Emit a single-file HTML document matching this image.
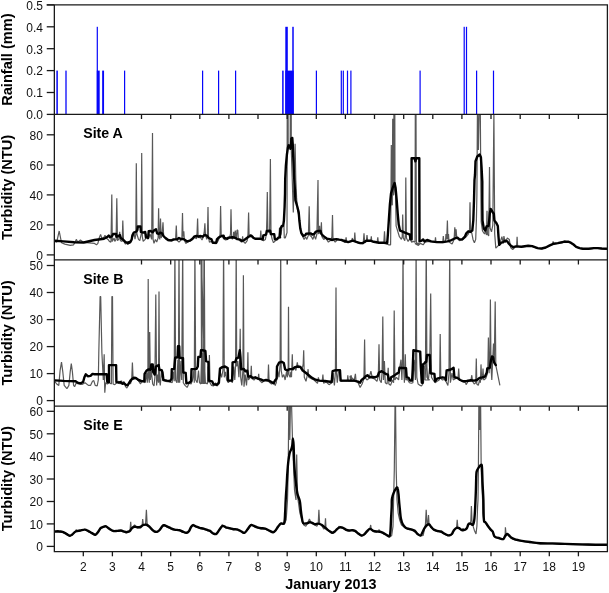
<!DOCTYPE html><html><head><meta charset="utf-8"><title>Turbidity and rainfall, January 2013</title><style>html,body{margin:0;padding:0;background:#fff}</style></head><body><svg width="609" height="593" viewBox="0 0 609 593" style="display:block;font-family:'Liberation Sans',Arial,sans-serif">
<rect width="609" height="593" fill="#fff"/>
<defs><clipPath id="cA"><rect x="54.35" y="114.4" width="553.05" height="145.49999999999997"/></clipPath><clipPath id="cB"><rect x="54.35" y="259.9" width="553.05" height="146.3"/></clipPath><clipPath id="cE"><rect x="54.35" y="406.2" width="553.05" height="145.50000000000006"/></clipPath></defs>
<rect x="56.35" y="70.6" width="1.5" height="43.8" fill="#0707fa"/>
<rect x="65.35" y="70.6" width="1.3" height="43.8" fill="#0707fa"/>
<rect x="96.7" y="26.8" width="1.2" height="87.6" fill="#0707fa"/>
<rect x="96.8" y="70.6" width="2.9" height="43.8" fill="#0707fa"/>
<rect x="102.15" y="70.6" width="1.9" height="43.8" fill="#0707fa"/>
<rect x="124" y="70.6" width="1.2" height="43.8" fill="#0707fa"/>
<rect x="202" y="70.6" width="1.2" height="43.8" fill="#0707fa"/>
<rect x="218" y="70.6" width="1.2" height="43.8" fill="#0707fa"/>
<rect x="235" y="70.6" width="1.2" height="43.8" fill="#0707fa"/>
<rect x="282.15" y="70.6" width="1.5" height="43.8" fill="#0707fa"/>
<rect x="285.3" y="26.8" width="2.5" height="87.6" fill="#0707fa"/>
<rect x="285.3" y="70.6" width="8.4" height="43.8" fill="#0707fa"/>
<rect x="292.25" y="26.8" width="1.5" height="87.6" fill="#0707fa"/>
<rect x="315.8" y="70.6" width="1.2" height="43.8" fill="#0707fa"/>
<rect x="340.7" y="70.6" width="1.2" height="43.8" fill="#0707fa"/>
<rect x="342.7" y="70.6" width="1.2" height="43.8" fill="#0707fa"/>
<rect x="346.9" y="70.6" width="1.2" height="43.8" fill="#0707fa"/>
<rect x="350.3" y="70.6" width="1.2" height="43.8" fill="#0707fa"/>
<rect x="419.5" y="70.6" width="1.2" height="43.8" fill="#0707fa"/>
<rect x="463.6" y="26.8" width="1.2" height="87.6" fill="#0707fa"/>
<rect x="465.9" y="26.8" width="1.2" height="87.6" fill="#0707fa"/>
<rect x="476" y="70.6" width="1.2" height="43.8" fill="#0707fa"/>
<rect x="492.9" y="70.6" width="1.2" height="43.8" fill="#0707fa"/>
<path d="M54.7 241.4 L56.7 242.1 L59.2 231 L61.1 240.7 L61.5 242.7 L64.8 244.1 L70.2 245.4 L73.6 244.8 L75 242.3 L76.3 239.4 L77.7 242.1 L80.4 240 L82.4 241.4 L83.7 242.3 L94.5 243.4 L96.5 244.8 L97.9 243.4 L99.2 238 L100.6 234.4 L101.9 238.7 L104 237.3 L105 235.3 L106 238 L108 239.4 L109.4 241.4 L111 242.1 L111.8 194.6 L112.3 241.4 L114.1 238 L114.8 241.4 L116.1 239.4 L116.8 198.2 L117.5 240.7 L118.8 239.4 L119.7 231.9 L120.4 240.7 L122.2 241.4 L122.8 220.5 L123.5 240.7 L125.5 244.1 L127.6 242.7 L130 242.1 L127.7 243.9 L130.4 242.3 L132.4 237.3 L134.2 234 L135 239.1 L135.8 234.6 L136.3 163.3 L136.9 234 L138.5 239.4 L139.8 240.7 L141.2 234 L141.7 152.9 L142.3 236.7 L143.2 241.4 L145.2 239.4 L146.6 234 L147.9 239.4 L150 234 L151.7 239.4 L152.5 133.1 L153.1 239.4 L154 243.4 L155.4 239.4 L156.7 242.1 L158.1 238 L158.6 208.3 L159.1 236.7 L159.8 239.4 L160.5 218.4 L161.2 238 L162.1 234 L163 222.2 L163.7 236.7 L165.5 238.7 L168.2 240.7 L171.5 241 L173.6 240 L175.6 239.4 L176.3 225.5 L176.9 240 L179 242.1 L181 240 L181.9 238 L182.5 213.1 L183 236.7 L183.8 231.3 L184.4 240 L185.7 243.4 L187.7 242.1 L189.8 241 L192.5 239.4 L194.5 237.3 L196.5 238.7 L197 234 L197.6 218.4 L198.1 235.3 L199.2 238 L200 236.7 L202 240 L203.4 236.7 L204.3 231.3 L204.9 223.4 L205.4 234 L206.7 239.4 L207.4 236.7 L208 207 L208.5 236.7 L209.4 242.1 L211.5 241.4 L213.5 243.4 L216.2 243.7 L218.2 240.7 L219.6 236.7 L220.1 234 L220.6 205.9 L221.2 235.3 L222.3 236.7 L223.6 238.7 L225.6 240 L227.7 239.4 L229.7 237.3 L230.5 234 L231 209.3 L231.6 236.7 L232.4 239.4 L233.3 236.7 L233.7 231.9 L234.3 238 L235.3 230.6 L235.9 236.7 L236.4 239.4 L237 230.2 L237.8 230.2 L238.3 239.4 L240.5 241.4 L242.1 242.1 L242.6 236.4 L243.2 241.4 L245.2 243.4 L247.2 240.7 L248 234 L248.6 212.4 L249.1 235.3 L250.6 234.6 L251.9 236.7 L254 238.7 L256.7 239.4 L259.4 239.4 L260.3 238 L260.8 230.6 L261.4 239.4 L263.4 240.7 L265.4 239.4 L266.4 234 L266.9 217.8 L267.3 192.1 L267.9 232.6 L268.8 231.3 L269.6 232.6 L270.4 159.1 L271 234 L272.2 239.4 L273.5 242.7 L275.5 240.7 L277.6 239.4 L278.9 238 L279.5 227.9 L280 236.7 L281.2 234 L281.9 226.5 L283.9 225.9 L284.3 238 L285.2 238 L285.9 236 L287 232.6 L287.7 -150 L288.2 146 L290.2 146 L290.8 -150 L291.3 150.1 L293.3 212.4 L295.1 143.7 L295.8 180 L296.6 197.9 L297.4 209 L298.7 215.1 L299.8 224.5 L300.8 231.3 L302.1 235.3 L304.1 239.4 L305.5 236.7 L306.8 239.4 L308.4 235.3 L309.2 206.3 L309.8 235.3 L311.5 236.7 L312.9 239.4 L314.2 235.3 L315.6 239.4 L316.9 234 L318 180 L318.4 234 L319.2 231.3 L319.6 225.9 L320 234 L320.9 232.6 L321.4 222.2 L321.9 236.7 L323.7 239.4 L325.7 238 L328.4 242.1 L331.1 240 L331.9 236.7 L332.5 215.1 L333 239.4 L335.2 242.1 L337.8 239.4 L340.5 240 L343.2 241.4 L345 242.1 L342.7 240.7 L345.4 242.1 L346.1 237.3 L346.7 242.3 L351.5 241.4 L352.4 238 L353.1 241.4 L354.3 240.7 L354.8 232.6 L355.4 241.4 L358.9 243.4 L363.2 243.7 L364 233.3 L364.7 242.7 L366.3 241.4 L367 235 L367.7 241 L370.8 241 L371.3 236.4 L371.8 241.5 L377.1 242.7 L377.8 237.3 L378.4 243.1 L383.8 243.1 L384.5 231.3 L385.2 243.4 L388.6 244.8 L390.6 244.8 L390.7 235 L391.3 145.1 L391.7 205 L392.3 205 L392.7 118.8 L393.3 195 L393.8 195 L394.2 -150 L395 190 L395.6 194 L396.1 225.9 L399.4 236.7 L401.4 239.4 L402.2 236.7 L402.7 214.4 L403.3 238 L404.8 240.7 L405.4 234 L405.8 177.4 L406.4 238 L408.1 241.4 L410.2 238 L411.5 242.1 L413.5 241.4 L415 242.1 L415.3 112.5 L415.5 207 L416 112.5 L416.4 242.1 L417.6 245 L419.3 243.4 L415 243.4 L417 244.8 L418.4 245.4 L420.4 243.4 L423.1 244.8 L425.1 242.1 L428.5 241.4 L435 242.1 L435.5 237.3 L436 242.3 L442.7 242.7 L443.3 236 L444 242.7 L445.5 240.7 L446 234 L446.7 239.4 L447.4 220.5 L447.9 239.4 L448.5 234 L449 242.1 L452.1 244.1 L454.1 239.4 L454.8 227.2 L455.5 236.7 L456.1 229.2 L456.8 238 L459.5 240.7 L462.2 240 L465.6 237.3 L468.3 234 L469.5 231.3 L470 202.3 L470.6 232.6 L471.7 232.6 L473 239.4 L474.4 242.7 L475.7 239.4 L476.4 219.9 L476.9 195 L477.5 100 L478.4 150.1 L479.4 100 L480.3 110 L480.8 180 L481.2 222 L482.5 231 L484.5 234 L485.6 231 L486.5 235 L487 210.8 L487.4 234 L488.7 236 L489.5 167 L490.1 228 L491.5 231.9 L492.8 225.1 L493.9 112.5 L494.7 234 L495.8 248.1 L497.8 246.1 L499.8 243.4 L501.9 236.7 L503.2 243.4 L503.9 236 L505.2 242.7 L507.3 238 L509.3 239.4 L510.6 247.5 L512.7 249.5 L515.4 246.8 L516.6 246.1 L517.1 236.7 L517.6 246.1 L521.4 247 L528.2 246.1 L532.2 246.4 L537.6 248.4 L541.7 248.8 L545.7 247.7 L549.8 245.7 L552.5 244.5 L553.1 241.4 L553.8 243.9 L557.8 243.4 L561.9 242.6 L565 241.7 L565.4 242.1 L568.1 241.9 L570.8 243 L573.5 244.8 L576.2 247 L579.6 248.4 L583 249.1 L588.4 249.1 L593.8 248.4 L597.8 248.4 L601.8 248.8 L607.5 249.1" fill="none" stroke="#585858" stroke-width="1.2" stroke-linejoin="bevel" clip-path="url(#cA)"/>
<path d="M54.7 240.7 L63.5 241.4 L74.3 242.3 L83.7 242.5 L94.5 240 L104 238.7 L106.7 237.3 L108.7 235.6 L110 237.3 L112.1 236 L113.1 234 L116.1 234 L116.4 236.7 L118.8 236 L119.9 235 L120.8 238 L123.5 240 L125.5 242.1 L127.6 242.7 L130 241.8 L127.7 243.4 L130.4 242.1 L131.7 239.4 L132.4 235.3 L133.8 232.6 L136.5 231.5 L137.4 229.9 L137.8 226.5 L140.5 226.5 L140.9 231.9 L143.2 232.6 L145.2 231.9 L145.9 237.3 L148.2 237.7 L148.7 231.3 L150.6 231 L152.7 232.3 L154 230.6 L156 229.2 L157.1 233.3 L158.7 234 L160.1 232.6 L162.1 233.3 L163.4 236 L165.5 238 L168.2 240 L171.5 240.4 L173.6 239.4 L176.9 239.4 L179 238 L181 239.1 L183 238.7 L185 240 L187.1 241.4 L189.8 240.7 L192.5 238.7 L194.5 236.4 L196.5 236 L198.5 236.7 L200 236 L202.7 236.7 L204.7 235 L206.7 235.6 L208.8 238 L211.5 239.4 L212.8 242.7 L216.2 242.7 L216.9 239.4 L218.9 237.3 L221.6 236 L223.6 235.6 L224.3 238 L227 238.7 L228.3 237.7 L232.4 237.3 L235.1 237.7 L237.1 239.1 L239.8 239.4 L241.8 240.7 L243.8 240.4 L245.9 238.7 L248.6 236.7 L251.3 235.6 L253.3 237.7 L255.3 238.7 L259.4 238.7 L262.7 239.4 L263.4 235.3 L266.1 234.6 L266.8 231 L270.2 230.6 L270.8 234 L274.2 234.2 L274.9 239.4 L276.9 239.1 L278.2 237.7 L280 237.3 L279.8 236.9 L280.5 228.6 L281.9 225.9 L283.2 225.6 L283.9 220.5 L284.6 207 L285 194 L285.2 178.8 L285.9 165.3 L286.9 154.5 L287.9 147.7 L288.6 145.3 L290 145.7 L290.4 148.8 L290.9 146.4 L291.4 138.3 L292.3 138 L292.8 145 L293.3 158.5 L294 174.7 L294.9 189.5 L295.4 200.2 L297.4 207 L298.7 212.4 L299.4 220.5 L300.3 228.6 L301.4 233.3 L303.4 236 L305.5 235 L306.1 233.7 L310.9 233.4 L312.2 234.6 L314.2 234 L315.6 231.9 L317.6 231 L320.6 231 L321.4 234 L323 235.6 L325 237.3 L327.1 238.7 L329.8 239.1 L331.8 240 L333.8 239.4 L336.5 239.1 L339.2 239.6 L341.9 240 L345 241.4 L344 240.7 L348.1 242.1 L352.8 240.7 L356.2 241.8 L360.2 243.1 L362.9 243.1 L366.3 240.7 L370.4 240.7 L373.7 241.8 L379.1 242.7 L383.2 242.7 L387.2 243.1 L387.9 234 L388.8 220.5 L389.9 204.3 L391 193.5 L392.6 188.1 L394.6 183 L395.6 188.1 L396.7 200.2 L397.7 213.7 L398.7 224.5 L400 230.6 L402.1 231.3 L404.8 232.6 L407.5 233.7 L409.9 234.6 L410.4 239.4 L411.6 239.4 L411.6 158.3 L414.6 158.3 L415.4 161.4 L416.2 158.3 L419.3 158.3 L419.5 241.4 L421.7 240.7 L423.1 239.4 L424.4 241.4 L427.1 240 L431.2 241.4 L436.6 242.1 L443.3 242.1 L447.4 241.4 L450.1 240.7 L454.1 238.7 L457.5 237.7 L459.5 239.4 L462.2 239.4 L464.9 236.7 L466.3 233.3 L468.3 231.3 L470.3 231.9 L472.3 230.6 L473.3 220.5 L474 200.2 L474.5 180 L475 174.7 L475.5 161.2 L477.3 156.5 L479.7 154.5 L480.9 157.2 L481.6 168 L482.3 181.5 L482.3 200.2 L482.5 220.5 L483.8 228.6 L485.2 230.6 L486.5 226.5 L488.5 225.9 L489.2 220.5 L489.9 212.4 L490.8 209.4 L490.7 209 L492.4 211.7 L493.8 213.7 L494.4 220.5 L496.5 223.2 L497.8 225.9 L498.5 236.7 L499.2 244.8 L501.2 242.7 L503.2 242.1 L505.2 240.7 L507.3 241.4 L508.6 243.4 L510.6 245.4 L513.3 247.2 L516 246.4 L521.4 246.8 L528.2 245.8 L532.2 246.1 L537.6 248.1 L541.7 248.5 L545.7 247.5 L549.8 245.4 L553.8 243.7 L557.8 243.1 L561.9 242.3 L565 241.4 L565.4 241.8 L568.1 241.7 L570.8 242.7 L573.5 244.5 L576.2 246.8 L579.6 248.1 L583 248.8 L588.4 248.8 L593.8 248.1 L597.8 248.1 L601.8 248.5 L607.5 248.8" fill="none" stroke="#000" stroke-width="2.4" stroke-linejoin="round" stroke-linecap="round" clip-path="url(#cA)"/>
<path d="M54.7 381.3 L56.7 384 L58.8 385.4 L60.1 370.5 L61.5 362.2 L62.8 371.9 L64.2 385.4 L66.9 388.7 L68.9 385.4 L70.2 371.9 L71.3 363.5 L72.4 371.9 L73.6 385.4 L74.6 386.7 L76.3 382.7 L78.3 384 L82.4 384.3 L85.1 382.7 L88.4 385.4 L90.5 385.4 L92.5 381.3 L93.8 380.6 L95.2 385.4 L97.2 386 L98.3 380 L98.8 353 L100.1 296.5 L100.7 296.5 L101.9 353 L103.3 380 L103.7 366.5 L104.2 354.3 L104.5 380 L104.8 392.8 L105.6 382.7 L107.3 384 L109.4 382.7 L111.4 384 L111.9 296.5 L112.5 296.5 L113.1 384 L114.8 384.7 L116.8 382.7 L118.8 381.3 L120.2 384 L121.5 380.6 L122.8 384 L123.9 381.3 L125.5 386.7 L126.9 388.1 L128.2 385.4 L130 380 L130.1 380 L130.4 384 L131.7 380 L132.4 362.4 L133.1 379.3 L135.8 378.6 L138.5 380.6 L140.5 384 L141.9 381.3 L144.3 382 L145.2 382.7 L146.6 373.2 L147.3 382.7 L147.9 371.9 L148.2 279.1 L148.7 377.3 L149.3 382.7 L149.7 332.1 L150.4 380 L151.3 370.5 L152.7 384 L154 386 L154.9 377.3 L155.8 294.6 L156.6 385.4 L157.6 374.6 L158.5 382.7 L159 291.5 L159.5 380 L160.3 385.4 L161.4 371.9 L162.8 380 L165.5 381.3 L169.5 382 L172.2 382.7 L173.3 371.9 L174.2 381.3 L174.9 245.1 L175.6 380 L176.9 382.7 L177.9 359.7 L178.4 382.7 L179 245.1 L179.6 382.7 L181 361.1 L181.7 380 L182.7 245.1 L183.3 382.7 L185 385.4 L187.1 387.4 L189.1 383.3 L191.1 384 L192.5 380 L193.8 370.5 L194.3 382.7 L194.9 245.1 L195.7 380 L197.2 382.7 L198.5 370.5 L199.5 382.7 L200.8 384 L201.5 359.7 L201.9 245.1 L202.2 384 L203.2 353 L203.8 384 L204.3 245.1 L204.9 384 L201.1 245.1 L201.6 384 L202.7 359.7 L203.5 384 L204 245.1 L204.6 366.5 L205.4 382.7 L207.4 384 L208.1 366.5 L208.9 382.7 L209.4 355 L210 382.7 L211.5 385.4 L213.5 386 L215.5 382.7 L216.9 386 L218.9 384 L220.2 371.9 L221.6 377.3 L222.9 370.5 L223.6 245.1 L224.3 377.3 L225.6 371.9 L226.7 380 L228.3 382.7 L230.4 380 L232.4 382.7 L233.7 366.5 L234.8 380 L235.6 363.8 L236.2 245.1 L236.7 366.5 L237.8 361.1 L238.9 377.3 L239.7 361.1 L240.2 328.7 L240.7 377.3 L241.8 385.4 L242.9 370.5 L243.4 275.3 L244 386.7 L245.2 374.6 L246.5 385.4 L247.4 373.2 L247.9 352.3 L248.4 380 L249.9 377.9 L250.7 377.3 L251.3 365.8 L251.8 378.6 L254 380 L256 377.9 L258.1 379.3 L258.7 373.9 L259.2 380 L262.1 382.7 L264.8 380 L267.9 381.3 L268.5 364.4 L269.1 382 L271.5 384 L273.5 382.7 L275.5 385.4 L275 385.4 L276.3 382.7 L277.7 370.5 L279 377.3 L280.1 365.1 L280.7 245.1 L281.2 370.5 L282.4 377.3 L283.8 374.6 L285.1 380 L286.5 371.9 L287.4 377.3 L288.2 366.5 L288.5 306.8 L288.9 374.6 L290.1 377.3 L290.9 371.9 L291.5 377.3 L292.3 354.3 L292.8 370.5 L294.6 367.8 L295.9 370.5 L297.3 362.4 L298.2 367.8 L300 365.8 L301.3 369.2 L302.7 366.5 L303.2 363.8 L303.7 350.3 L304.3 377.3 L306 381.3 L307.4 374.6 L308.1 369.2 L308.7 377.3 L311.4 378.6 L314.1 380 L317.5 383.3 L318.4 377.3 L319 380.6 L322.2 381.3 L322.9 374.6 L323.6 383.3 L326.3 382 L329 384.7 L331.7 382.7 L333 373.2 L334.4 385.4 L335.4 371.9 L336 287.6 L336.5 373.2 L337.3 382.7 L338.4 371.9 L339.8 372.5 L341.1 381.3 L345.2 381 L347.3 381.3 L347.8 375.2 L348.4 381.3 L350.7 381.3 L351.2 375.2 L351.8 381.3 L355 381 L350 375.9 L350.7 381.3 L354 381.3 L355.4 373.9 L356.1 381.3 L358.1 382.7 L360.1 387.4 L362.1 384 L363.5 380 L364 374.6 L364.6 339.5 L365.1 377.3 L366.9 380 L368.9 378.6 L370.9 371.2 L372.3 377.9 L375 379.3 L377 381.3 L378.3 375.9 L379 344.2 L379.7 380 L381.3 382.7 L382.1 371.9 L382.8 316.6 L383.5 380 L384.4 361.1 L385.3 382.7 L387.1 384 L388.2 367.8 L388.9 384 L390.5 385.4 L392.5 380 L393.6 382.7 L394.2 310.5 L394.9 380 L396.5 377.3 L398.6 380 L399.9 366.5 L401 359.7 L401.9 380 L402.5 361.1 L403 245.1 L403.6 366.5 L404.4 382.7 L405.3 354.3 L405.9 380 L407.3 379.3 L409.4 382.7 L411.4 383.3 L412.9 382.7 L414.1 359.7 L415.4 380 L416.1 245.1 L416.8 377.3 L418.1 384 L420.2 385.4 L421.5 386 L423.5 382.7 L424.5 366.5 L425.5 363.8 L426.2 245.1 L426.9 366.5 L427.6 378.6 L429.6 380 L425 380 L425.8 366.5 L426.3 245.1 L426.9 377.3 L428.4 380 L429.7 366.5 L430.7 293.4 L431.5 377.3 L433.1 380 L435.1 382.7 L437.1 381.3 L439.2 380 L439.7 377.3 L440.2 334.1 L440.8 378.6 L442.5 380 L444.6 379.3 L445.9 381.3 L447.9 385.4 L449 373.2 L449.7 245.1 L450.4 382.7 L452 373.2 L453.3 380 L455.4 378.6 L458.1 377.3 L458.7 368.5 L459.4 379.3 L462.1 381.3 L465.5 382.7 L466.1 384.7 L468.2 381.3 L470.9 380.6 L471.8 375.2 L472.5 381.3 L474.2 384 L475.7 382.7 L476.3 358.4 L476.8 384 L478.3 385.4 L479.6 380 L480.4 382.7 L481 364.4 L481.7 380 L482.5 377.3 L483 368.5 L483.7 380 L485.7 378.6 L487.1 374.6 L487.9 366.5 L488.4 337.5 L489.1 373.2 L489.9 353 L490.4 299.4 L491 366.5 L491.8 380 L492.7 359.7 L493.5 343.5 L494.3 359.7 L495.2 301.4 L495.8 365.1 L499.9 385.4" fill="none" stroke="#585858" stroke-width="1.2" stroke-linejoin="bevel" clip-path="url(#cB)"/>
<path d="M54.7 380.4 L63.5 380.9 L75.6 381.3 L77.7 382.7 L80.4 383.3 L83.1 382 L84.4 377.3 L85.8 374.3 L87.8 376.2 L90.5 375.9 L92.5 373.9 L94.5 374.2 L98.6 374.3 L106.7 374.3 L107.3 382 L109 382 L109 365.1 L116.1 365.1 L116.4 382 L118.8 382.7 L120.2 382 L122.2 383.7 L124.2 383.3 L126.2 385.1 L127.7 385.1 L129.7 382 L131.7 379.3 L133.8 377.7 L135.8 377.9 L138.5 380 L141.2 381 L144.3 381.3 L144.6 373.9 L146.6 370.5 L148.6 369.4 L150.6 369.8 L151.3 364.4 L152.7 364.4 L153.1 371.9 L154.7 374.6 L155.8 366.5 L158.7 365.1 L159.4 369.8 L161.7 370.2 L162.5 372.5 L163.4 380 L166.8 380.6 L170.2 381 L171.5 378.6 L171.8 369.2 L174.2 368.9 L175.2 357.7 L177.6 357.3 L178 346.2 L179.2 346.2 L179.6 357.7 L183 358.1 L183.3 372.5 L185.7 372.9 L186.4 383.3 L189.1 382.7 L191.1 381.3 L191.5 369.2 L196.5 368.9 L197.8 366.5 L198.3 357 L200.5 356.8 L201 350.3 L203.2 350.3 L205.4 351 L206.1 361.1 L208.4 361.8 L208.8 380.6 L212.1 381.3 L213.5 384.3 L216.9 384.7 L218.9 382.7 L220 368.5 L222.3 367.1 L225 366.5 L227.7 368.1 L228.1 380.6 L232.1 380.6 L232.6 362.4 L235.3 361.8 L236.4 358.4 L238.4 357.7 L239.8 350.3 L240.5 357.7 L241.1 369.2 L243.8 368.9 L245.2 371.2 L247.2 370.8 L248.3 376.6 L250.6 376.2 L252.6 377.9 L255.3 377.3 L258 378.6 L260.7 379.3 L263.4 380.6 L266.1 380 L268.8 380.6 L271.5 382 L273.5 383.3 L275 380.6 L276.6 378.6 L277 366.5 L279 362.7 L281.7 361.8 L283.8 363.1 L285.1 369.2 L287.1 370.5 L289.2 369.2 L292.5 368.9 L295.2 367.1 L297.9 366.5 L300.6 367.1 L302.7 370.5 L305.4 372.5 L308.7 375.2 L312.1 377.9 L315.5 379.7 L319.5 380.6 L324.9 381 L331.7 382 L332.6 371.2 L335.7 370.2 L340 370.2 L340.6 380.6 L345.2 380.6 L350.5 380.6 L354 380.6 L358.1 381.6 L360.1 382.7 L361.5 380 L363.5 378.6 L365.5 376.6 L367.5 375.2 L369.6 377.3 L372.3 377 L375 377.3 L377.7 376.2 L379 372.5 L381.7 371.2 L383.7 372.5 L385.8 373.9 L387.8 374.6 L388.9 380 L390.5 380.6 L391.1 377.3 L393.8 375.9 L396.5 373.9 L398.8 372.5 L399.4 367.8 L406 368.1 L406.7 377.3 L408.7 377.9 L410 380.6 L412.1 380.6 L412.7 369.2 L413.4 350.3 L420.2 351.6 L420.8 366.5 L421.8 382.7 L422.6 382.7 L422.8 364.4 L424.9 363.1 L425 362.4 L426.3 361.8 L427 355 L429.7 355 L430.4 373.2 L434.4 373.9 L435.1 381.3 L437.1 378.6 L439.8 377.9 L442.5 377.3 L445.2 377.9 L445.9 380 L446.6 370.5 L450 369.8 L451.3 369.2 L453.6 367.8 L454.4 377.3 L457.4 377.9 L460.1 380 L463.4 381.3 L466.8 381 L470.9 380.2 L474.2 380.6 L476.9 380 L479.6 377.9 L482.3 377.3 L485 376.6 L486.8 372.5 L487.3 368.5 L489.8 367.8 L491.1 359.7 L492 356.4 L493.1 357.3 L494.1 362.4 L495.8 365.1" fill="none" stroke="#000" stroke-width="2.4" stroke-linejoin="round" stroke-linecap="round" clip-path="url(#cB)"/>
<path d="M54.6 532.1 L58.5 531.8 L62.5 532.3 L66.4 534.4 L69.7 536.3 L72.3 534.9 L75.6 531.3 L76.3 529.6 L77.6 531.5 L80.2 531 L84.8 529.2 L88.1 531.4 L92 533.6 L95.3 535.3 L97.9 532.7 L100.6 527.6 L103.2 527.5 L105.8 525.7 L109.1 529.2 L113.1 531.4 L117 531.4 L120.9 531 L123.6 531.8 L126.2 532.7 L128.8 532.1 L130 530.5 L130.7 521.7 L131.3 529.6 L132 528.2 L134.6 525 L137.2 527.8 L140.5 528.2 L142.1 526.3 L142.7 519 L143.4 525.6 L145.5 525.2 L146.4 509.9 L147.2 525.6 L149 526.8 L151.7 529.7 L154.3 531.8 L156.9 532.3 L159.6 530.5 L162.2 526.3 L163.5 524.3 L164.8 525.7 L167.4 527.2 L170.7 528.8 L174.7 530.1 L179.3 530.7 L182.5 532.1 L186.5 533.4 L189.1 531.4 L191.1 526.9 L193.1 524.3 L195.7 526.8 L199.6 528.4 L203.6 529.2 L207.5 530.5 L210 531.4 L213.3 534 L216.3 534.4 L219.2 530 L222.1 524.7 L225.8 527.8 L229.7 528.8 L233.6 529.7 L237.6 529.2 L241.5 532.1 L244.4 533.4 L247.4 530.1 L251 524.3 L253.3 526.1 L257.3 527.8 L261.2 528.8 L265.2 529.2 L269.1 531 L273.1 532.7 L275.7 530.7 L278.3 526.8 L280.9 523 L284.2 524.3 L286.2 519.7 L287.5 500 L288.2 470 L289 380 L289.8 440 L290.9 380 L292.5 440 L294.5 490 L296 500 L296.7 454.6 L297.5 496 L299.9 513.1 L301.8 519.7 L303.8 525 L305.8 526.3 L307.7 523 L309.4 519 L311 522.6 L315 525 L316.9 526.3 L318.2 523.6 L318.9 509.9 L319.6 523.6 L321.5 525.2 L323.9 529.2 L324.9 527.6 L325.5 518.4 L326 528.2 L327.4 530.1 L330.1 532.1 L332.3 533.4 L334.7 532.1 L337.3 529.4 L338.9 526.3 L340.6 527.6 L342.5 528.1 L345.8 530.1 L349.1 531 L352.4 529.6 L355 531.4 L358.3 534 L361.6 536 L364.2 534.9 L366.8 532.1 L370 528.2 L370.7 525 L371.3 529.6 L373.3 531.4 L376.6 532.1 L379.2 529.6 L380.2 532.3 L383.1 533.4 L386.4 535.3 L389.4 537.4 L391.7 535.5 L393 526.3 L393.6 500 L394.3 470 L395.3 380 L396.2 470 L397 500 L398.2 513.1 L399.6 519.7 L401.5 525 L405.5 528.1 L408.8 529.4 L412 530.1 L415.3 530.2 L416.6 532.8 L417.9 534.7 L420.6 536 L423.2 535.5 L424.5 528.8 L425.4 525 L426.2 509.9 L427 524.3 L427.8 523.6 L428.5 515.1 L429.1 524.3 L431.1 527.5 L433.7 530.1 L437 531.4 L440.9 532.1 L444.2 534 L447.5 535.7 L450 535.7 L452 534.4 L453.9 530.7 L456.6 527.8 L457.2 519.7 L457.9 528.1 L461.8 530.5 L463.1 528.2 L464.4 530.5 L466.8 528.8 L468.4 524.8 L470.4 524.2 L470.9 519.7 L471.4 505.9 L471.9 519.7 L472.3 523.6 L474.3 530.2 L476 533.9 L476.9 526.3 L477.6 506.6 L478 500 L478.4 470 L479 380 L479.7 430 L480.4 380 L481.2 470 L482.6 500 L482.8 513.1 L483.9 521 L485.5 522.9 L488.1 526.8 L490.7 530.1 L492.7 532.1 L494 536 L495.3 537.6 L499.3 538.6 L503.2 539.7 L504.5 537.4 L505.2 534.2 L505.4 527.3 L506 533.5 L507.1 534.4 L509.1 536 L511.1 538 L514.4 539.7 L518.3 540.6 L523.6 541.6 L530 542.6 L540.3 543.8 L552.6 544 L564.9 544.5 L582.2 545 L597 545.3 L607 545.3" fill="none" stroke="#585858" stroke-width="1.2" stroke-linejoin="bevel" clip-path="url(#cE)"/>
<path d="M54.6 531.5 C55.2 531.5 57.2 531.2 58.5 531.3 C59.8 531.3 61.2 531.4 62.5 531.8 C63.8 532.2 65.2 533.2 66.4 533.9 C67.6 534.5 68.7 535.6 69.7 535.7 C70.7 535.8 71.3 535.1 72.3 534.4 C73.3 533.7 74.3 532.1 75.6 531.5 C76.9 530.9 78.7 530.8 80.2 530.5 C81.7 530.2 83.5 529.5 84.8 529.6 C86.1 529.7 86.9 530.3 88.1 530.9 C89.3 531.5 90.8 532.5 92 533.1 C93.2 533.8 94.3 534.9 95.3 534.8 C96.3 534.6 97.0 533.3 97.9 532.2 C98.8 531.1 99.7 529.1 100.6 528.2 C101.5 527.3 102.3 527.2 103.2 526.9 C104.1 526.6 104.8 526.0 105.8 526.3 C106.8 526.6 107.9 527.8 109.1 528.6 C110.3 529.4 111.8 530.5 113.1 530.9 C114.4 531.3 115.7 531.0 117 530.9 C118.3 530.8 119.8 530.4 120.9 530.5 C122.0 530.6 122.7 531.0 123.6 531.3 C124.5 531.6 125.3 532.2 126.2 532.2 C127.1 532.2 128.2 531.7 128.8 531.5 C129.4 531.3 129.5 531.4 130 530.9 C130.5 530.4 131.2 528.9 132 528.2 C132.8 527.5 133.7 526.9 134.6 526.7 C135.5 526.6 136.2 527.3 137.2 527.3 C138.2 527.3 139.5 527.3 140.5 526.9 C141.5 526.5 142.1 525.4 143.1 525 C144.1 524.6 145.4 524.5 146.4 524.7 C147.4 524.9 148.1 525.5 149 526.3 C149.9 527.0 150.8 528.4 151.7 529.2 C152.6 530.0 153.4 530.9 154.3 531.3 C155.2 531.7 156.0 532.0 156.9 531.8 C157.8 531.6 158.7 530.9 159.6 530 C160.5 529.1 161.4 527.1 162.2 526.3 C163.0 525.5 163.3 525.1 164.2 525.2 C165.1 525.3 166.3 526.2 167.4 526.7 C168.5 527.2 169.5 527.7 170.7 528.2 C171.9 528.7 173.3 529.3 174.7 529.6 C176.1 529.9 178.0 529.9 179.3 530.2 C180.6 530.5 181.3 531.1 182.5 531.5 C183.7 531.9 185.4 532.9 186.5 532.8 C187.6 532.7 188.3 531.9 189.1 530.9 C189.9 529.9 190.4 527.8 191.1 526.9 C191.8 526.0 192.3 525.3 193.1 525.2 C193.9 525.1 194.6 525.9 195.7 526.3 C196.8 526.7 198.3 527.4 199.6 527.8 C200.9 528.2 202.3 528.2 203.6 528.6 C204.9 529.0 206.4 529.6 207.5 530 C208.6 530.4 209.0 530.3 210 530.9 C211.0 531.5 212.2 533.0 213.3 533.5 C214.4 534.0 215.3 534.5 216.3 533.9 C217.3 533.3 218.2 531.3 219.2 530 C220.2 528.7 221.4 526.5 222.5 526 C223.6 525.5 224.6 526.9 225.8 527.3 C227.0 527.7 228.4 527.9 229.7 528.2 C231.0 528.5 232.3 529.0 233.6 529.2 C234.9 529.4 236.3 529.2 237.6 529.6 C238.9 530.0 240.4 531.0 241.5 531.5 C242.6 532.0 243.4 533.1 244.4 532.8 C245.4 532.5 246.4 530.9 247.4 529.6 C248.4 528.3 249.7 525.9 250.7 525.2 C251.7 524.5 252.2 525.2 253.3 525.6 C254.4 526.0 256.0 526.9 257.3 527.3 C258.6 527.7 259.9 528.0 261.2 528.2 C262.5 528.4 263.9 528.2 265.2 528.6 C266.5 529.0 267.8 529.9 269.1 530.5 C270.4 531.1 272.0 532.2 273.1 532.2 C274.2 532.2 274.8 531.2 275.7 530.2 C276.6 529.2 277.4 527.4 278.3 526.3 C279.2 525.2 279.9 524.1 280.9 523.6 C281.9 523.1 283.5 524.8 284.2 523 C284.9 521.2 284.9 516.9 285.1 513.1 C285.4 509.3 285.4 504.5 285.7 500 C285.9 495.5 286.3 490.4 286.6 486 C286.9 481.6 287.0 477.4 287.3 473.5 C287.6 469.6 287.8 466.1 288.2 462.7 C288.6 459.3 289.1 455.4 289.6 453.2 C290.1 450.9 290.9 450.5 291.3 449.2 C291.8 447.9 292.0 446.9 292.3 445.1 C292.6 443.3 292.7 438.4 292.9 438.4 C293.1 438.4 293.4 441.5 293.6 445.1 C293.8 448.7 293.9 455.3 294.1 460 C294.3 464.7 294.6 469.6 294.9 473.5 C295.2 477.4 295.6 480.2 296 483.6 C296.4 487.0 296.8 490.7 297.4 493.6 C298.0 496.5 299.2 498.3 299.8 501 C300.4 503.7 300.5 507.1 300.8 509.8 C301.1 512.5 301.4 514.9 301.8 517.1 C302.2 519.3 302.3 522.0 303.1 523 C303.9 524.0 305.3 523.5 306.4 523.4 C307.5 523.3 308.7 522.4 309.7 522.3 C310.7 522.2 311.4 522.7 312.3 523 C313.2 523.3 314.0 524.2 315 524.3 C316.0 524.4 317.1 523.5 318.2 523.6 C319.3 523.7 320.5 524.2 321.5 524.7 C322.5 525.2 323.2 526.1 324.2 526.9 C325.2 527.7 326.4 528.8 327.4 529.6 C328.4 530.4 329.3 531.0 330.1 531.5 C330.9 532.0 331.5 532.8 332.3 532.8 C333.1 532.8 333.9 532.1 334.7 531.5 C335.5 530.9 336.4 529.6 337.3 528.9 C338.2 528.2 339.0 527.5 339.9 527.3 C340.8 527.1 341.5 527.2 342.5 527.6 C343.5 528.0 344.7 529.1 345.8 529.6 C346.9 530.1 348.0 530.4 349.1 530.5 C350.2 530.6 351.4 530.1 352.4 530.2 C353.4 530.3 354.0 530.4 355 530.9 C356.0 531.4 357.2 532.7 358.3 533.5 C359.4 534.3 360.6 535.4 361.6 535.5 C362.6 535.6 363.3 535.1 364.2 534.4 C365.1 533.7 365.8 532.4 366.8 531.5 C367.8 530.6 368.9 529.0 370 528.9 C371.1 528.8 372.2 530.5 373.3 530.9 C374.4 531.3 375.5 531.4 376.6 531.5 C377.7 531.6 378.8 531.6 379.9 531.8 C381.0 532.0 382.0 532.3 383.1 532.8 C384.2 533.3 385.3 534.2 386.4 534.8 C387.4 535.3 388.7 536.6 389.4 536.1 C390.1 535.6 390.1 534.2 390.4 531.5 C390.7 528.8 390.8 523.9 391 519.7 C391.2 515.6 391.6 509.9 391.7 506.6 C391.8 503.3 391.7 501.9 391.8 500 C392.0 498.1 392.4 496.9 392.8 495.4 C393.2 493.9 394.0 492.1 394.5 491 C395.0 489.9 395.6 489.1 396 488.5 C396.4 487.9 396.7 487.4 397 487.5 C397.3 487.6 397.6 487.9 397.8 489 C398.1 490.1 398.3 492.2 398.5 494 C398.7 495.8 398.8 497.2 399 500 C399.2 502.8 399.7 507.4 400 510.5 C400.3 513.6 400.4 516.1 400.9 518.4 C401.4 520.7 402.0 522.8 402.8 524.3 C403.6 525.8 404.5 526.8 405.5 527.6 C406.5 528.4 407.7 528.6 408.8 528.9 C409.9 529.2 410.9 529.2 412 529.6 C413.1 530.0 414.3 530.7 415.3 531.5 C416.3 532.3 417.0 533.5 417.9 534.2 C418.8 534.9 419.8 535.8 420.6 535.5 C421.4 535.2 421.9 533.4 422.5 532.2 C423.1 531.0 423.7 529.4 424.5 528.2 C425.3 527.0 426.3 525.6 427.1 525 C427.9 524.4 428.4 524.0 429.1 524.3 C429.8 524.6 430.3 526.0 431.1 526.9 C431.9 527.8 432.7 528.9 433.7 529.6 C434.7 530.3 435.8 530.6 437 530.9 C438.2 531.2 439.7 531.1 440.9 531.5 C442.1 531.9 443.1 532.9 444.2 533.5 C445.3 534.1 446.5 534.9 447.5 535.2 C448.5 535.5 449.2 535.4 450 535.2 C450.8 535.0 451.4 534.7 452 533.9 C452.6 533.1 453.1 531.2 453.9 530.2 C454.7 529.2 455.7 528.1 456.6 527.8 C457.5 527.5 458.3 527.8 459.2 528.2 C460.1 528.6 460.9 529.7 461.8 530 C462.7 530.3 463.6 530.3 464.4 530 C465.2 529.7 466.1 529.2 466.8 528.2 C467.5 527.2 467.8 525.1 468.4 524.3 C469.0 523.5 469.6 523.5 470.4 523.6 C471.2 523.7 472.4 525.4 473 524.7 C473.6 524.1 473.9 522.7 474.3 519.7 C474.7 516.7 475.0 510.7 475.2 506.6 C475.4 502.5 475.5 499.1 475.7 495 C475.9 490.9 476.0 485.8 476.1 481.9 C476.2 478.0 476.2 474.2 476.6 471.8 C477.0 469.4 477.9 468.8 478.7 467.6 C479.5 466.4 480.6 464.7 481.2 464.7 C481.8 464.7 481.8 464.7 482 467.6 C482.2 470.5 482.3 476.5 482.5 481.9 C482.7 487.3 483.2 493.7 483.4 500 C483.6 506.3 483.5 516.0 483.9 519.7 C484.2 523.4 484.8 521.2 485.5 522.3 C486.2 523.4 487.2 525.1 488.1 526.3 C489.0 527.5 489.9 528.7 490.7 529.6 C491.5 530.5 492.1 530.5 492.7 531.5 C493.2 532.5 493.6 534.6 494 535.5 C494.4 536.4 494.4 536.6 495.3 537 C496.2 537.4 498.0 537.8 499.3 538.1 C500.6 538.5 502.2 539.4 503.2 539.1 C504.2 538.8 504.5 537.0 505.2 536.1 C505.9 535.2 506.5 534.0 507.1 533.9 C507.8 533.8 508.4 534.9 509.1 535.5 C509.8 536.1 510.2 536.8 511.1 537.4 C512.0 538.0 513.2 538.6 514.4 539.1 C515.6 539.6 516.8 539.8 518.3 540.1 C519.8 540.4 521.6 540.8 523.6 541.1 C525.6 541.4 527.2 541.6 530 542 C532.8 542.4 536.5 543.0 540.3 543.2 C544.1 543.4 548.5 543.3 552.6 543.4 C556.7 543.5 560.0 543.7 564.9 543.9 C569.8 544.1 576.9 544.3 582.2 544.4 C587.6 544.5 592.9 544.7 597 544.7 C601.1 544.8 605.3 544.7 607 544.7" fill="none" stroke="#000" stroke-width="2.4" stroke-linejoin="round" stroke-linecap="round" clip-path="url(#cE)"/>
<rect x="80.2" y="125.0" width="48" height="17" fill="#fff"/>
<text x="83.2" y="138.0" font-size="14.2" font-weight="bold" fill="#000">Site A</text>
<rect x="80.2" y="270.8" width="48" height="17" fill="#fff"/>
<text x="83.2" y="283.8" font-size="14.2" font-weight="bold" fill="#000">Site B</text>
<rect x="80.2" y="416.5" width="48" height="17" fill="#fff"/>
<text x="83.2" y="429.5" font-size="14.2" font-weight="bold" fill="#000">Site E</text>
<g stroke="#1a1a1a" stroke-width="1.3" fill="none">
<path d="M46.75 4.9 H607.4 V551.7 H54.35 V4.9"/>
<path d="M54.35 114.4 H607.4"/>
<path d="M54.35 259.9 H607.4"/>
<path d="M54.35 406.2 H607.4"/>
</g>
<g stroke="#1a1a1a" stroke-width="1.3">
<path d="M83.3 551.7 v4.6"/>
<path d="M112.4 551.7 v4.6"/>
<path d="M141.5 114.4 v4.6"/>
<path d="M141.5 259.9 v4.6"/>
<path d="M141.5 406.2 v4.6"/>
<path d="M141.5 551.7 v4.6"/>
<path d="M170.7 114.4 v4.6"/>
<path d="M170.7 259.9 v4.6"/>
<path d="M170.7 406.2 v4.6"/>
<path d="M170.7 551.7 v4.6"/>
<path d="M199.8 114.4 v4.6"/>
<path d="M199.8 259.9 v4.6"/>
<path d="M199.8 406.2 v4.6"/>
<path d="M199.8 551.7 v4.6"/>
<path d="M228.9 114.4 v4.6"/>
<path d="M228.9 259.9 v4.6"/>
<path d="M228.9 406.2 v4.6"/>
<path d="M228.9 551.7 v4.6"/>
<path d="M258.0 114.4 v4.6"/>
<path d="M258.0 259.9 v4.6"/>
<path d="M258.0 406.2 v4.6"/>
<path d="M258.0 551.7 v4.6"/>
<path d="M287.2 114.4 v4.6"/>
<path d="M287.2 259.9 v4.6"/>
<path d="M287.2 406.2 v4.6"/>
<path d="M287.2 551.7 v4.6"/>
<path d="M316.3 114.4 v4.6"/>
<path d="M316.3 259.9 v4.6"/>
<path d="M316.3 406.2 v4.6"/>
<path d="M316.3 551.7 v4.6"/>
<path d="M345.4 114.4 v4.6"/>
<path d="M345.4 259.9 v4.6"/>
<path d="M345.4 406.2 v4.6"/>
<path d="M345.4 551.7 v4.6"/>
<path d="M374.5 114.4 v4.6"/>
<path d="M374.5 259.9 v4.6"/>
<path d="M374.5 406.2 v4.6"/>
<path d="M374.5 551.7 v4.6"/>
<path d="M403.7 114.4 v4.6"/>
<path d="M403.7 259.9 v4.6"/>
<path d="M403.7 406.2 v4.6"/>
<path d="M403.7 551.7 v4.6"/>
<path d="M432.8 114.4 v4.6"/>
<path d="M432.8 259.9 v4.6"/>
<path d="M432.8 406.2 v4.6"/>
<path d="M432.8 551.7 v4.6"/>
<path d="M461.9 114.4 v4.6"/>
<path d="M461.9 259.9 v4.6"/>
<path d="M461.9 406.2 v4.6"/>
<path d="M461.9 551.7 v4.6"/>
<path d="M491.0 114.4 v4.6"/>
<path d="M491.0 259.9 v4.6"/>
<path d="M491.0 406.2 v4.6"/>
<path d="M491.0 551.7 v4.6"/>
<path d="M520.2 114.4 v4.6"/>
<path d="M520.2 259.9 v4.6"/>
<path d="M520.2 406.2 v4.6"/>
<path d="M520.2 551.7 v4.6"/>
<path d="M549.3 114.4 v4.6"/>
<path d="M549.3 259.9 v4.6"/>
<path d="M549.3 406.2 v4.6"/>
<path d="M549.3 551.7 v4.6"/>
<path d="M578.4 114.4 v4.6"/>
<path d="M578.4 259.9 v4.6"/>
<path d="M578.4 406.2 v4.6"/>
<path d="M578.4 551.7 v4.6"/>
<path d="M46.75 254.9 H54.35"/>
<path d="M46.75 224.9 H54.35"/>
<path d="M46.75 194.9 H54.35"/>
<path d="M46.75 165.0 H54.35"/>
<path d="M46.75 134.8 H54.35"/>
<path d="M46.75 400.6 H54.35"/>
<path d="M46.75 373.6 H54.35"/>
<path d="M46.75 346.6 H54.35"/>
<path d="M46.75 319.6 H54.35"/>
<path d="M46.75 292.5 H54.35"/>
<path d="M46.75 265.5 H54.35"/>
<path d="M46.75 546.4 H54.35"/>
<path d="M46.75 523.9 H54.35"/>
<path d="M46.75 501.5 H54.35"/>
<path d="M46.75 479.0 H54.35"/>
<path d="M46.75 456.4 H54.35"/>
<path d="M46.75 433.8 H54.35"/>
<path d="M46.75 411.3 H54.35"/>
<path d="M46.75 114.4 H54.35"/>
<path d="M46.75 92.5 H54.35"/>
<path d="M46.75 70.6 H54.35"/>
<path d="M46.75 48.7 H54.35"/>
<path d="M46.75 26.8 H54.35"/>
<path d="M46.75 4.9 H54.35"/>
</g>
<g font-size="12" fill="#111" text-anchor="end">
<text x="42.9" y="259.7">0</text>
<text x="42.9" y="229.7">20</text>
<text x="42.9" y="199.7">40</text>
<text x="42.9" y="169.8">60</text>
<text x="42.9" y="139.6">80</text>
<text x="42.9" y="405.4">0</text>
<text x="42.9" y="378.4">10</text>
<text x="42.9" y="351.4">20</text>
<text x="42.9" y="324.4">30</text>
<text x="42.9" y="297.3">40</text>
<text x="42.9" y="270.3">50</text>
<text x="42.9" y="551.2">0</text>
<text x="42.9" y="528.7">10</text>
<text x="42.9" y="506.3">20</text>
<text x="42.9" y="483.8">30</text>
<text x="42.9" y="461.2">40</text>
<text x="42.9" y="438.6">50</text>
<text x="42.9" y="416.1">60</text>
<text x="42.9" y="119.2">0.0</text>
<text x="42.9" y="97.3">0.1</text>
<text x="42.9" y="75.4">0.2</text>
<text x="42.9" y="53.5">0.3</text>
<text x="42.9" y="31.6">0.4</text>
<text x="42.9" y="9.7">0.5</text>
</g>
<g font-size="12" fill="#111" text-anchor="middle">
<text x="83.3" y="570.5">2</text>
<text x="112.4" y="570.5">3</text>
<text x="141.5" y="570.5">4</text>
<text x="170.7" y="570.5">5</text>
<text x="199.8" y="570.5">6</text>
<text x="228.9" y="570.5">7</text>
<text x="258.0" y="570.5">8</text>
<text x="287.2" y="570.5">9</text>
<text x="316.3" y="570.5">10</text>
<text x="345.4" y="570.5">11</text>
<text x="374.5" y="570.5">12</text>
<text x="403.7" y="570.5">13</text>
<text x="432.8" y="570.5">14</text>
<text x="461.9" y="570.5">15</text>
<text x="491.0" y="570.5">16</text>
<text x="520.2" y="570.5">17</text>
<text x="549.3" y="570.5">18</text>
<text x="578.4" y="570.5">19</text>
</g>
<g font-size="14.6" font-weight="bold" fill="#000" text-anchor="middle">
<text x="330.9" y="588.6" font-size="14.4">January 2013</text>
<text transform="translate(11.5 59.6) rotate(-90)">Rainfall (mm)</text>
<text transform="translate(11.5 187.4) rotate(-90)">Turbidity (NTU)</text>
<text transform="translate(11.5 333) rotate(-90)">Turbidity (NTU)</text>
<text transform="translate(11.5 478.7) rotate(-90)">Turbidity (NTU)</text>
</g>
</svg></body></html>
